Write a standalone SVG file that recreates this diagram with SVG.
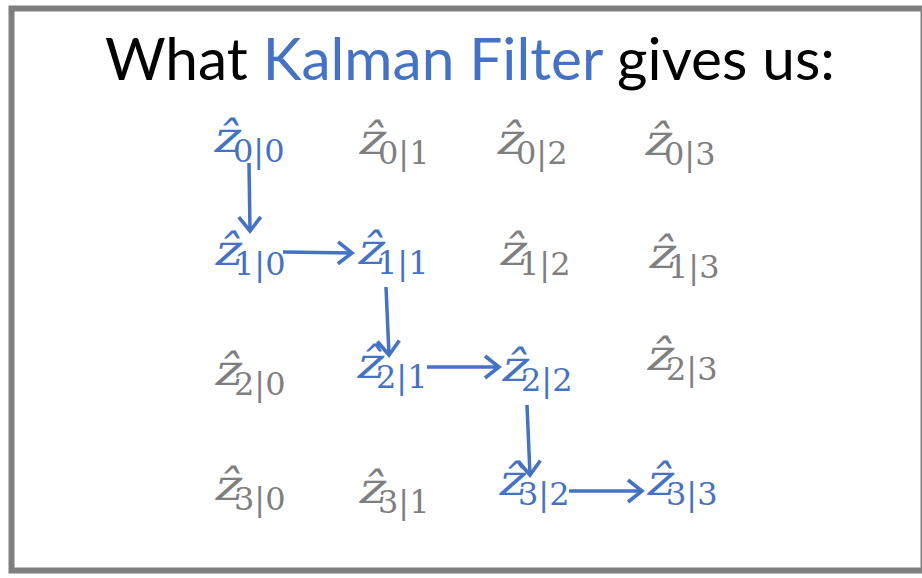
<svg xmlns="http://www.w3.org/2000/svg" width="922" height="578" viewBox="0 0 922 578">
<style>
.title{font-family:Lato,"Liberation Sans",sans-serif;font-size:59px;fill:#000}
.blue{fill:#4472C4}
.z{font-family:"DejaVu Serif","Liberation Serif",serif;font-size:43px}
.sub{font-family:"DejaVu Serif","Liberation Serif",serif;font-size:32px}
.g .z,.g .sub{fill:#7F7F7F}
.b .z,.b .sub{fill:#4472C4}
.conn line{stroke:#4472C4;stroke-width:3.5;fill:none;marker-end:url(#ah)}
</style>
<defs>
<marker id="ah" viewBox="0 0 28 28" markerWidth="28" markerHeight="28" refX="25" refY="14" orient="auto" markerUnits="userSpaceOnUse">
<path d="M11,3 L25,14 L11,25" fill="none" stroke="#4472C4" stroke-width="3.6" stroke-linejoin="miter"/>
</marker>
</defs>
<rect x="11.5" y="8.5" width="912" height="562" fill="#fff" stroke="#7F7F7F" stroke-width="6"/>
<text class="title" x="105" y="80" textLength="730" lengthAdjust="spacingAndGlyphs">What <tspan class="blue">Kalman Filter</tspan> gives us:</text>

<g id="n00" class="b"><text class="z" transform="translate(212,152) skewX(-12)" textLength="27" lengthAdjust="spacingAndGlyphs">ẑ</text><text class="sub" x="233" y="162">0|0</text></g>
<g id="n01" class="g"><text class="z" transform="translate(357,154) skewX(-12)" textLength="27" lengthAdjust="spacingAndGlyphs">ẑ</text><text class="sub" x="378" y="164">0|1</text></g>
<g id="n02" class="g"><text class="z" transform="translate(495,154) skewX(-12)" textLength="27" lengthAdjust="spacingAndGlyphs">ẑ</text><text class="sub" x="516" y="164">0|2</text></g>
<g id="n03" class="g"><text class="z" transform="translate(643,155) skewX(-12)" textLength="27" lengthAdjust="spacingAndGlyphs">ẑ</text><text class="sub" x="664" y="165">0|3</text></g>

<g id="n10" class="b"><text class="z" transform="translate(213,265) skewX(-12)" textLength="27" lengthAdjust="spacingAndGlyphs">ẑ</text><text class="sub" x="234" y="275">1|0</text></g>
<g id="n11" class="b"><text class="z" transform="translate(356,264) skewX(-12)" textLength="27" lengthAdjust="spacingAndGlyphs">ẑ</text><text class="sub" x="377" y="274">1|1</text></g>
<g id="n12" class="g"><text class="z" transform="translate(498,265) skewX(-12)" textLength="27" lengthAdjust="spacingAndGlyphs">ẑ</text><text class="sub" x="519" y="275">1|2</text></g>
<g id="n13" class="g"><text class="z" transform="translate(647,268) skewX(-12)" textLength="27" lengthAdjust="spacingAndGlyphs">ẑ</text><text class="sub" x="668" y="278">1|3</text></g>

<g id="n20" class="g"><text class="z" transform="translate(213,385) skewX(-12)" textLength="27" lengthAdjust="spacingAndGlyphs">ẑ</text><text class="sub" x="234" y="395">2|0</text></g>
<g id="n21" class="b"><text class="z" transform="translate(355,378) skewX(-12)" textLength="27" lengthAdjust="spacingAndGlyphs">ẑ</text><text class="sub" x="376" y="388">2|1</text></g>
<g id="n22" class="b"><text class="z" transform="translate(500,381) skewX(-12)" textLength="27" lengthAdjust="spacingAndGlyphs">ẑ</text><text class="sub" x="521" y="391">2|2</text></g>
<g id="n23" class="g"><text class="z" transform="translate(645,370) skewX(-12)" textLength="27" lengthAdjust="spacingAndGlyphs">ẑ</text><text class="sub" x="666" y="380">2|3</text></g>

<g id="n30" class="g"><text class="z" transform="translate(213,500) skewX(-12)" textLength="27" lengthAdjust="spacingAndGlyphs">ẑ</text><text class="sub" x="234" y="510">3|0</text></g>
<g id="n31" class="g"><text class="z" transform="translate(357,503) skewX(-12)" textLength="27" lengthAdjust="spacingAndGlyphs">ẑ</text><text class="sub" x="378" y="513">3|1</text></g>
<g id="n32" class="b"><text class="z" transform="translate(497,495) skewX(-12)" textLength="27" lengthAdjust="spacingAndGlyphs">ẑ</text><text class="sub" x="518" y="505">3|2</text></g>
<g id="n33" class="b"><text class="z" transform="translate(645,495) skewX(-12)" textLength="27" lengthAdjust="spacingAndGlyphs">ẑ</text><text class="sub" x="666" y="505">3|3</text></g>

<g id="connectors" class="conn">
<line x1="249" y1="163" x2="250" y2="231"/>
<line x1="283" y1="252" x2="352" y2="253"/>
<line x1="386" y1="287" x2="389" y2="355"/>
<line x1="427" y1="367" x2="499" y2="367"/>
<line x1="527" y1="405" x2="530" y2="475"/>
<line x1="569" y1="491" x2="642" y2="491"/>
</g>
</svg>
